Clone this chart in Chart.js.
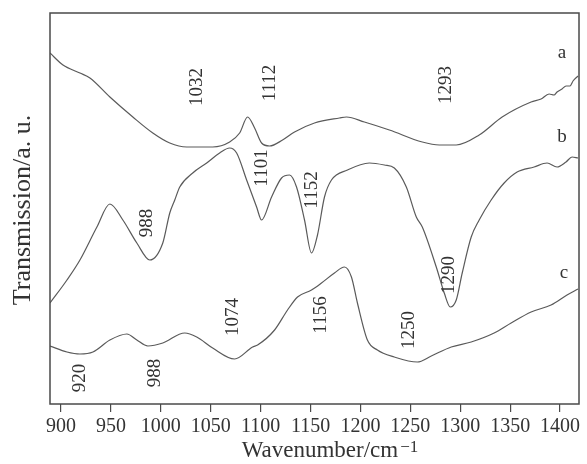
<!DOCTYPE html>
<html><head><meta charset="utf-8">
<script src="https://cdn.jsdelivr.net/npm/chart.js@4/dist/chart.umd.min.js"></script>
<style>html,body{margin:0;padding:0;background:#fff}#wrap{width:587px;height:464px}</style>
</head><body><div id="wrap"><canvas id="c" width="587" height="464"></canvas></div>
<script>
// Curve a
const aWn = [889,902,919,929,949,972,992,1009,1026,1052,1069,1079,1087,1094,1101,1109,1122,1134,1154,1179,1186,1204,1229,1262,1279,1296,1319,1342,1371,1381,1389,1394,1397,1402,1406,1410,1413,1418];
const aT  = [351,339,331,326,307,287,271,261,257,257,262,271,287,276,261,258,264,272,281,286,287,282,274,262,259,259,269,287,302,305,310,309,312,315,318,318,323,328];
// Curve b
const bWn = [889,906,919,936,949,962,976,989,1002,1009,1014,1019,1032,1046,1059,1069,1076,1086,1096,1101,1111,1121,1129,1136,1144,1151,1157,1164,1171,1187,1209,1224,1234,1246,1256,1262,1276,1284,1290,1296,1302,1311,1319,1331,1344,1357,1374,1387,1397,1406,1412,1418];
const bT  = [101,124,144,177,200,184,161,144,161,191,204,217,231,241,251,256,251,224,197,184,207,226,229,217,184,151,169,207,224,234,241,239,236,217,187,177,137,111,97,104,131,167,184,204,221,232,237,241,237,242,247,246];
// Curve c
const cWn = [889,906,919,932,949,966,976,987,1002,1024,1036,1052,1074,1092,1097,1114,1127,1137,1151,1161,1174,1184,1191,1197,1207,1217,1234,1257,1271,1291,1311,1334,1351,1371,1391,1407,1418];
const cT  = [58,52,50,52,64,70,64,58,61,71,67,56,45,57,59,74,94,107,114,121,131,137,127,101,64,54,47,42,48,57,62,71,81,92,99,109,115];
// Tick labels
const xTicks = [900,950,1000,1050,1100,1150,1200,1250,1300,1350,1400];
// Annotation texts
const peakLabels = ["1032","1112","1293","1101","1152","988","1290","920","988","1074","1156","1250"];
const peakAt     = [1036,1109,1286,1101,1152,986,1289,919,994,1072,1161,1249];
const peakLevel  = [317,321,319,236,214,181,129,26,31,87,89,74];
const curveNames = ["a","b","c"];
const nameAt     = [1402,1402,1404];
const nameLevel  = [351,267,131];

const toXY = (xs, ys) => xs.map((x,i)=>({x, y: ys[i]}));
const FONT = "'Liberation Serif', 'Times New Roman', serif";
const INK = '#4a4a4a';

const deco = {
  id: 'deco',
  afterDraw(chart) {
    const {ctx, chartArea: ca, scales: {x, y}} = chart;
    ctx.save();
    ctx.strokeStyle = INK; ctx.lineWidth = 1.5;
    ctx.strokeRect(ca.left, ca.top, ca.right - ca.left, ca.bottom - ca.top);
    ctx.fillStyle = '#333';
    ctx.font = '19px ' + FONT;
    ctx.textAlign = 'center'; ctx.textBaseline = 'middle';
    peakLabels.forEach((t,i)=>{
      ctx.save();
      ctx.translate(x.getPixelForValue(peakAt[i]), y.getPixelForValue(peakLevel[i]));
      ctx.rotate(-Math.PI/2);
      ctx.fillText(t, 0, 0);
      ctx.restore();
    });
    curveNames.forEach((t,i)=>{
      ctx.fillText(t, x.getPixelForValue(nameAt[i]), y.getPixelForValue(nameLevel[i]));
    });
    // y title
    ctx.save();
    ctx.font = '26px ' + FONT;
    ctx.translate(23, 210);
    ctx.rotate(-Math.PI/2);
    ctx.fillText('Transmission/a. u.', 0, 0);
    ctx.restore();
    // x title with superscript
    const main = 'Wavenumber/cm', sup = '\u22121';
    ctx.font = '23px ' + FONT;
    const w1 = ctx.measureText(main).width;
    ctx.font = '17px ' + FONT;
    const w2 = ctx.measureText(sup).width;
    const cx = 330;
    const x0 = cx - (w1 + w2 + 2) / 2;
    ctx.textAlign = 'left'; ctx.textBaseline = 'alphabetic';
    ctx.font = '23px ' + FONT;
    ctx.fillText(main, x0, 457);
    ctx.font = '17px ' + FONT;
    ctx.fillText(sup, x0 + w1 + 2, 452);
    ctx.restore();
  }
};

const ds = (xs, ys) => ({
  data: toXY(xs, ys), borderColor: '#5a5a5a', borderWidth: 1.2,
  pointRadius: 0, fill: false, cubicInterpolationMode: 'monotone'
});

new Chart(document.getElementById('c'), {
  type: 'line',
  data: { datasets: [ds(aWn,aT), ds(bWn,bT), ds(cWn,cT)] },
  options: {
    responsive: false, animation: false,
    layout: { padding: { left: 0, top: 13, right: 8, bottom: 0 } },
    plugins: { legend: { display: false }, tooltip: { enabled: false } },
    scales: {
      x: {
        type: 'linear', min: 889, max: 1419,
        afterBuildTicks: s => { s.ticks = xTicks.map(v => ({value: v})); },
        afterFit: s => { s.height = 60; },
        grid: { display: true, drawOnChartArea: false, drawTicks: true, tickLength: 8, color: INK, lineWidth: 1.2 },
        border: { display: false },
        ticks: { color: '#333', font: { family: FONT, size: 20 }, padding: 3, maxRotation: 0, autoSkip: false,
                 callback: v => String(v) }
      },
      y: {
        min: 0, max: 391,
        afterFit: s => { s.width = 50; },
        grid: { display: false }, border: { display: false },
        ticks: { display: false }
      }
    }
  },
  plugins: [deco]
});
</script></body></html>
